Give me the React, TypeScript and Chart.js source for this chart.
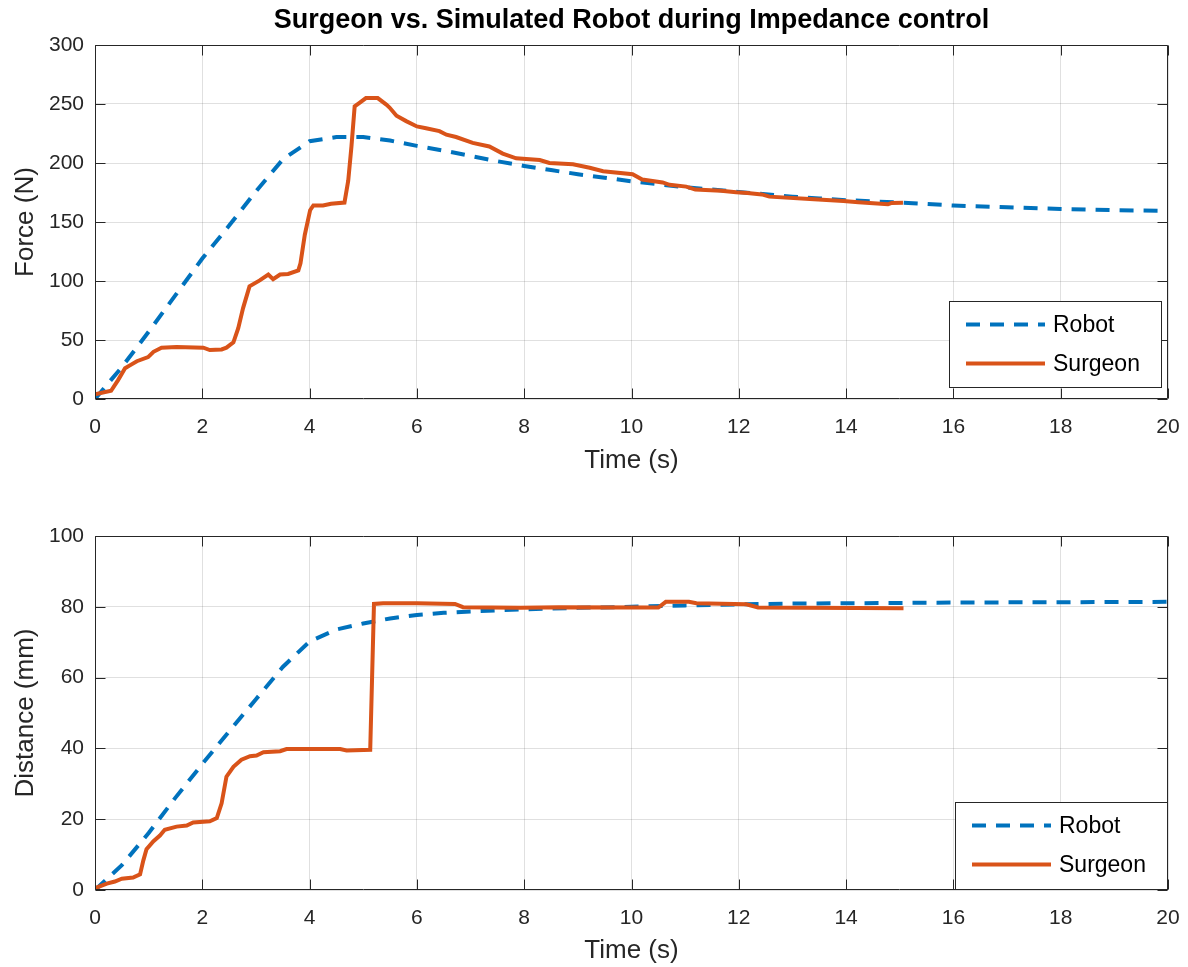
import React, { useEffect, useRef } from "react";
import { Chart, registerables } from "chart.js";

Chart.register(...registerables);

// ---------- Data ----------
const chartTitle = "Surgeon vs. Simulated Robot during Impedance control";
const seriesNames = ["Robot", "Surgeon"];
const xTickValues = [0, 2, 4, 6, 8, 10, 12, 14, 16, 18, 20];
const forceTicks = [0, 50, 100, 150, 200, 250, 300];
const distanceTicks = [0, 20, 40, 60, 80, 100];

// Top: Force (N)
const robotForceTime = [0, 0.5, 1, 1.5, 2, 2.5, 3, 3.5, 4, 4.5, 5, 5.5, 6, 6.5, 7, 7.5, 8, 8.5, 9, 9.5, 10, 10.5, 11, 11.5, 12, 12.5, 13, 13.5, 14, 14.5, 15, 16, 17, 18, 19, 20];
const robotForce = [0, 27, 57, 88, 119, 147, 176, 203, 218.5, 222, 222, 219, 214.5, 210.5, 206, 201.5, 197.5, 194, 190.5, 187.5, 184.5, 182, 179.5, 177.5, 175.5, 173.5, 171.5, 170, 168.5, 167.5, 166.5, 164, 162.5, 161, 160, 159.5];

const surgeonForceTime = [0, 0.3, 0.43, 0.56, 0.65, 0.78, 0.99, 1.09, 1.24, 1.52, 2.02, 2.14, 2.36, 2.45, 2.58, 2.67, 2.76, 2.88, 3.07, 3.23, 3.32, 3.45, 3.6, 3.79, 3.83, 3.91, 4.01, 4.07, 4.25, 4.4, 4.65, 4.72, 4.78, 4.84, 4.93, 5.05, 5.27, 5.43, 5.49, 5.62, 5.8, 6.0, 6.17, 6.42, 6.55, 6.73, 7.04, 7.35, 7.6, 7.85, 8.29, 8.47, 8.91, 9.22, 9.47, 10.02, 10.2, 10.58, 10.71, 11.02, 11.19, 11.67, 11.95, 12.16, 12.43, 12.57, 13.4, 13.95, 14.23, 14.78, 14.85, 15.06];
const surgeonForce = [4, 7, 16, 26, 28.5, 32, 35.5, 40, 43.5, 44, 43.5, 41.5, 42, 43.5, 48, 60, 77, 95.5, 100.5, 105.5, 101.5, 105.5, 106, 109, 115, 139, 160, 164, 164, 165.5, 166.5, 185, 214, 248, 251, 255, 255, 249.5, 247, 240, 235.5, 231, 229.5, 227, 224, 222, 217, 214, 208, 204, 202.5, 200, 199, 196, 193, 190.5, 186, 183.5, 181.5, 180, 177.5, 176.5, 175.2, 174.6, 173.4, 171.5, 169.3, 167.8, 166.8, 165, 166.2, 166.3];

// Bottom: Distance (mm)
const robotDistTime = [0, 0.5, 1, 1.5, 2, 2.5, 3, 3.5, 4, 4.5, 5, 5.5, 6, 6.5, 7, 7.5, 8, 9, 10, 11, 12, 13, 14, 16, 18, 20];
const robotDist = [0, 7, 16.1, 26.1, 35.6, 44.8, 53.9, 63, 70.2, 73.6, 75.3, 76.7, 77.7, 78.3, 78.7, 79, 79.3, 79.7, 80, 80.4, 80.7, 80.9, 81, 81.2, 81.3, 81.4];

const surgeonDistTime = [0, 0.22, 0.37, 0.5, 0.71, 0.84, 0.9, 0.96, 1.09, 1.21, 1.3, 1.52, 1.71, 1.83, 2.14, 2.27, 2.36, 2.45, 2.58, 2.73, 2.89, 3.01, 3.14, 3.45, 3.57, 4.57, 4.69, 5.13, 5.2, 5.37, 6.0, 6.71, 6.86, 7.93, 8.64, 10.5, 10.64, 11.07, 11.21, 12.14, 12.36, 15.07];
const surgeonDist = [0.5, 1.8, 2.4, 3.2, 3.5, 4.4, 8.3, 11.5, 13.8, 15.4, 17, 17.9, 18.2, 19.1, 19.4, 20.3, 24.5, 32, 34.8, 36.8, 37.8, 38, 38.9, 39.2, 39.8, 39.8, 39.4, 39.6, 80.8, 81, 81, 80.8, 79.9, 79.7, 79.9, 79.8, 81.4, 81.4, 81, 80.7, 79.8, 79.6];

// ---------- Styling ----------
const BLUE = "#0072BD";
const ORANGE = "#D95319";
const AXIS = "#262626";
const GRID = "rgba(38,38,38,0.14)";
const FONT = "'Liberation Sans', Arial, Helvetica, sans-serif";

function pts(t: number[], v: number[]) {
  return t.map((x, i) => ({ x, y: v[i] }));
}

const matlabPlugin = {
  id: "matlabBox",
  afterDraw(chart: any, _args: any, opts: any) {
    const { ctx, chartArea: a, scales } = chart;
    ctx.save();
    ctx.strokeStyle = AXIS;
    ctx.lineWidth = 1;
    const L = Math.round(a.left) + 0.5;
    const R = Math.round(a.right) - 0.5;
    const T = Math.round(a.top) + 0.5;
    const B = Math.round(a.bottom) - 0.5;
    ctx.beginPath();
    ctx.rect(L, T, R - L, B - T);
    ctx.stroke();
    const tl = 10;
    ctx.beginPath();
    for (const v of xTickValues) {
      const px = Math.round(scales.x.getPixelForValue(v)) + 0.5;
      ctx.moveTo(px, B);
      ctx.lineTo(px, B - tl);
      ctx.moveTo(px, T);
      ctx.lineTo(px, T + tl);
    }
    for (const v of opts.yTicks as number[]) {
      const py = Math.round(scales.y.getPixelForValue(v)) + 0.5;
      ctx.moveTo(L, py);
      ctx.lineTo(L + tl, py);
      ctx.moveTo(R, py);
      ctx.lineTo(R - tl, py);
    }
    ctx.stroke();

    // Title centred over the axes
    if (opts.title) {
      ctx.fillStyle = "#000000";
      ctx.font = `bold 27px ${FONT}`;
      ctx.textAlign = "center";
      ctx.textBaseline = "middle";
      ctx.fillText(opts.title, (a.left + a.right) / 2, 21);
    }

    // Legend box
    const lg = opts.legend;
    ctx.fillStyle = "#ffffff";
    ctx.fillRect(lg.x, lg.y, lg.w, lg.h);
    ctx.strokeStyle = AXIS;
    ctx.lineWidth = 1;
    ctx.strokeRect(lg.x + 0.5, lg.y + 0.5, lg.w, lg.h);
    ctx.font = `23px ${FONT}`;
    ctx.textBaseline = "middle";
    ctx.textAlign = "left";
    chart.data.datasets.forEach((ds: any, i: number) => {
      const yy = lg.y + 23.5 + i * 39;
      ctx.beginPath();
      ctx.strokeStyle = ds.borderColor;
      ctx.lineWidth = ds.borderWidth;
      ctx.setLineDash(ds.borderDash || []);
      ctx.moveTo(lg.x + 17, yy);
      ctx.lineTo(lg.x + 96, yy);
      ctx.stroke();
      ctx.setLineDash([]);
      ctx.fillStyle = "#000000";
      ctx.fillText(ds.label, lg.x + 104, yy + 1);
    });
    ctx.restore();
  },
};

function makeConfig(p: {
  robot: { x: number; y: number }[];
  surgeon: { x: number; y: number }[];
  yMax: number;
  yTicks: number[];
  yTitle: string;
  title: string;
  padTop: number;
  xHeight: number;
  xTitlePadBottom: number;
  legend: { x: number; y: number; w: number; h: number };
}): any {
  return {
    type: "line",
    data: {
      datasets: [
        {
          label: seriesNames[0],
          data: p.robot,
          borderColor: BLUE,
          backgroundColor: BLUE,
          borderWidth: 4,
          borderDash: [14, 10],
          pointRadius: 0,
          tension: 0,
          order: 1,
        },
        {
          label: seriesNames[1],
          data: p.surgeon,
          borderColor: ORANGE,
          backgroundColor: ORANGE,
          borderWidth: 4,
          pointRadius: 0,
          tension: 0,
          order: 0,
        },
      ],
    },
    options: {
      animation: false,
      responsive: true,
      maintainAspectRatio: false,
      layout: { padding: { left: 0, right: 20, top: p.padTop, bottom: 0 } },
      plugins: {
        legend: { display: false },
        tooltip: { enabled: false },
        title: { display: false },
        matlabBox: { yTicks: p.yTicks, legend: p.legend, title: p.title },
      },
      scales: {
        x: {
          type: "linear",
          min: 0,
          max: 20,
          afterFit: (s: any) => {
            s.height = p.xHeight;
            s.paddingLeft = 0;
            s.paddingRight = 0;
          },
          afterBuildTicks: (s: any) => {
            s.ticks = xTickValues.map((v) => ({ value: v }));
          },
          ticks: {
            color: AXIS,
            font: { family: FONT, size: 21 },
            padding: 16,
            maxRotation: 0,
            autoSkip: false,
          },
          grid: { color: GRID, drawTicks: false, lineWidth: 1 },
          border: { display: false },
          title: {
            display: true,
            text: "Time (s)",
            color: AXIS,
            font: { family: FONT, size: 26 },
            padding: { top: 0, bottom: p.xTitlePadBottom },
          },
        },
        y: {
          type: "linear",
          min: 0,
          max: p.yMax,
          afterFit: (s: any) => {
            s.width = 95;
            s.paddingTop = 0;
            s.paddingBottom = 0;
          },
          afterBuildTicks: (s: any) => {
            s.ticks = p.yTicks.map((v) => ({ value: v }));
          },
          ticks: {
            color: AXIS,
            font: { family: FONT, size: 21 },
            padding: 11,
            autoSkip: false,
          },
          grid: { color: GRID, drawTicks: false, lineWidth: 1 },
          border: { display: false },
          title: {
            display: true,
            text: p.yTitle,
            color: AXIS,
            font: { family: FONT, size: 26 },
            padding: { top: 10, bottom: 0 },
          },
        },
      },
    },
    plugins: [matlabPlugin],
  };
}

export default function App() {
  const topRef = useRef<HTMLCanvasElement | null>(null);
  const botRef = useRef<HTMLCanvasElement | null>(null);

  useEffect(() => {
    const c1 = new Chart(
      topRef.current as HTMLCanvasElement,
      makeConfig({
        robot: pts(robotForceTime, robotForce),
        surgeon: pts(surgeonForceTime, surgeonForce),
        yMax: 300,
        yTicks: forceTicks,
        yTitle: "Force (N)",
        title: chartTitle,
        padTop: 45,
        xHeight: 81,
        xTitlePadBottom: 3.4,
        legend: { x: 949, y: 301, w: 212, h: 86 },
      })
    );
    const c2 = new Chart(
      botRef.current as HTMLCanvasElement,
      makeConfig({
        robot: pts(robotDistTime, robotDist),
        surgeon: pts(surgeonDistTime, surgeonDist),
        yMax: 100,
        yTicks: distanceTicks,
        yTitle: "Distance (mm)",
        title: "",
        padTop: 56,
        xHeight: 77,
        xTitlePadBottom: 0.4,
        legend: { x: 955, y: 322, w: 212, h: 87 },
      })
    );
    return () => {
      c1.destroy();
      c2.destroy();
    };
  }, []);

  return (
    <div style={{ position: "absolute", left: 0, top: 0, width: 1188, height: 967, background: "#ffffff" }}>
      <div style={{ position: "absolute", left: 0, top: 0, width: 1188, height: 480 }}>
        <canvas ref={topRef} />
      </div>
      <div style={{ position: "absolute", left: 0, top: 480, width: 1188, height: 487 }}>
        <canvas ref={botRef} />
      </div>
    </div>
  );
}
